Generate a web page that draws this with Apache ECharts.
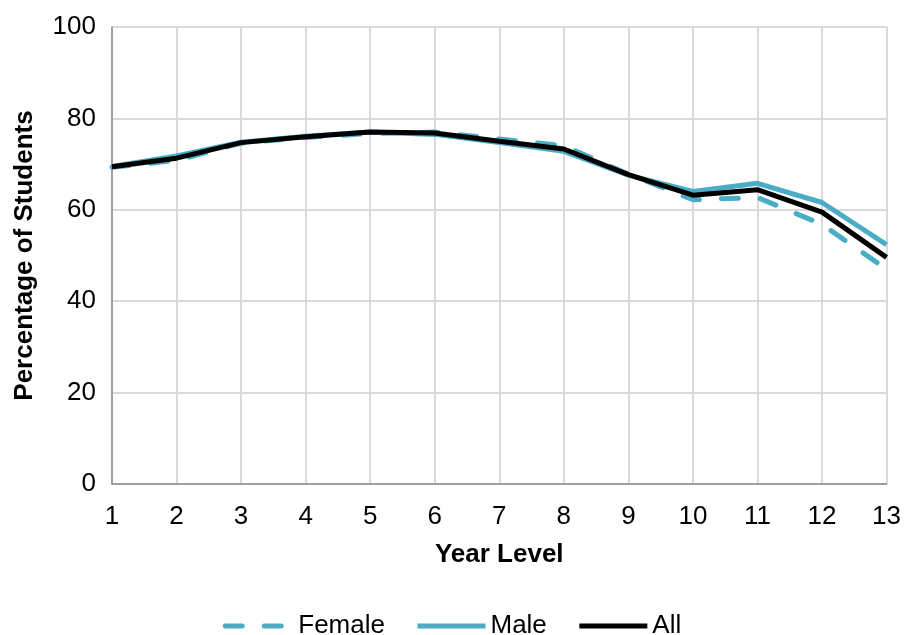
<!DOCTYPE html>
<html><head><meta charset="utf-8">
<script src="https://cdn.jsdelivr.net/npm/echarts@6/dist/echarts.min.js"></script>
<style>html,body{margin:0;padding:0;background:#fff}#c{width:904px;height:635px}</style>
</head><body><div id="c"></div>
<script>
var categories = ['1','2','3','4','5','6','7','8','9','10','11','12','13'];
var female = [69.3, 70.8, 74.6, 75.8, 76.7, 77.0, 75.5, 74.0, 67.8, 62.2, 62.7, 56.8, 47.0];
var male   = [69.5, 71.8, 74.8, 76.1, 77.0, 76.5, 74.7, 72.8, 67.6, 64.0, 65.8, 61.6, 52.4];
var all    = [69.4, 71.3, 74.7, 76.0, 77.0, 76.8, 75.0, 73.3, 67.7, 63.2, 64.4, 59.5, 49.6];
var yTicks = [0, 20, 40, 60, 80, 100];

var font = 'Liberation Sans, Arial, sans-serif';
var teal = '#4bacc6';
var fs = 26;
var chart = echarts.init(document.getElementById('c'));
chart.setOption({
  animation: false,
  grid: {left: 112, right: 14, top: 27, bottom: 151},
  xAxis: {
    type: 'category', data: categories, boundaryGap: false,
    name: 'Year Level', nameLocation: 'middle', nameGap: 58,
    nameTextStyle: {fontFamily: font, fontSize: fs, fontWeight: 'bold', color: '#000'},
    axisLine: {lineStyle: {color: '#8c8c8c', width: 1.5}},
    axisTick: {show: false},
    axisLabel: {fontFamily: font, fontSize: fs, color: '#000', margin: 20},
    splitLine: {show: true, lineStyle: {color: '#d9d9d9', width: 2}}
  },
  yAxis: {
    type: 'value', min: yTicks[0], max: yTicks[yTicks.length-1], interval: 20,
    name: 'Percentage of Students', nameLocation: 'middle', nameGap: 74,
    nameTextStyle: {fontFamily: font, fontSize: fs, fontWeight: 'bold', color: '#000'},
    axisLine: {show: true, lineStyle: {color: '#8c8c8c', width: 1.5}},
    axisTick: {show: false},
    axisLabel: {fontFamily: font, fontSize: fs, color: '#000', margin: 16},
    splitLine: {show: true, lineStyle: {color: '#d9d9d9', width: 2}}
  },
  legend: {
    bottom: -9, left: 'center', itemWidth: 68, itemHeight: 5, itemGap: 30,
    itemStyle: {opacity: 0},
    lineStyle: {width: 5},
    textStyle: {fontFamily: font, fontSize: fs, color: '#000'},
    data: ['Female', 'Male', 'All']
  },
  series: [
    {name: 'Female', type: 'line', data: female, symbol: 'none',
     lineStyle: {color: teal, width: 5, type: [17, 22], cap: 'round'}, itemStyle: {color: teal}},
    {name: 'Male', type: 'line', data: male, symbol: 'none',
     lineStyle: {color: teal, width: 5}, itemStyle: {color: teal}},
    {name: 'All', type: 'line', data: all, symbol: 'none',
     lineStyle: {color: '#000', width: 5}, itemStyle: {color: '#000'}}
  ]
});
</script></body></html>
